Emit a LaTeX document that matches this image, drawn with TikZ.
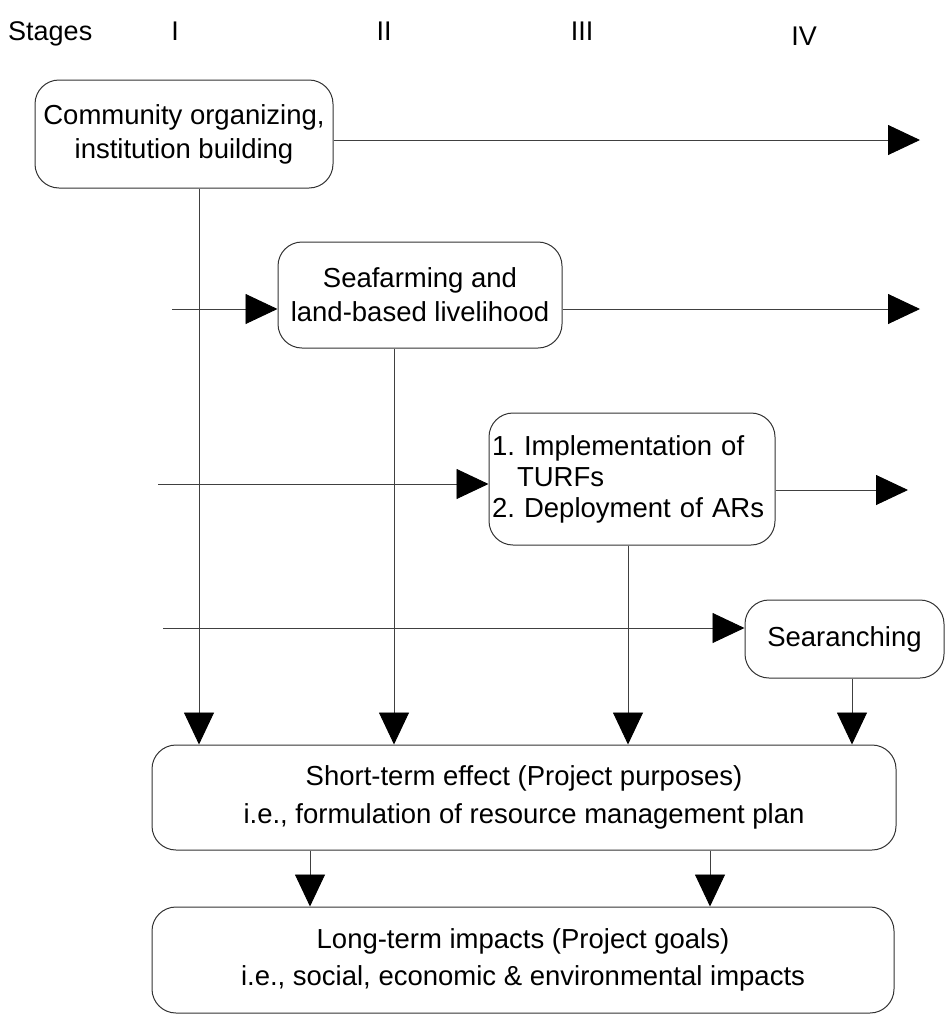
\documentclass[tikz,border=0pt]{standalone}
\usepackage{fontspec}
\setmainfont{Liberation Sans}
\usetikzlibrary{arrows.meta}
\frenchspacing
\begin{document}
\begin{tikzpicture}[x=1pt,y=-1pt,
  box/.style={draw=black!80, line width=1pt, rounded corners=24pt, inner sep=0pt,
    font=\fontsize{27.5}{34}\selectfont, align=center},
  arr/.style={draw=black!75, line width=0.9pt, -{Triangle[length=32pt,width=30pt,color=black]}},
  lbl/.style={font=\fontsize{27}{32}\selectfont, inner sep=0pt, anchor=base}]
\useasboundingbox (0,0) rectangle (946,1015);

% header
\node[lbl, anchor=base west] (h0) at (8,40) {Stages};
\node[lbl] (h1) at (175,40) {I};
\node[lbl] (h2) at (384,40) {II};
\node[lbl] (h3) at (582,40) {III};
\node[lbl] (h4) at (804,45) {IV};

% boxes
\node[box, minimum width=298pt, minimum height=108pt] (A) at (184,134)
  {Community organizing,\\institution building};
\node[box, minimum width=284pt, minimum height=106pt] (B) at (420,295)
  {Seafarming and\\land-based livelihood};
\node[box, minimum width=286pt, minimum height=132pt, text width=280pt, align=left,
  font=\fontsize{27.5}{31}\selectfont] (C) at (632,479)
  {1. Implementation of\\\hspace*{25pt}TURFs\\2. Deployment of ARs};
\node[box, minimum width=199pt, minimum height=78pt] (D) at (844.5,639) {Searanching};
\node[box, minimum width=744pt, minimum height=105pt, font=\fontsize{27.5}{38}\selectfont] (S) at (524,797.5)
  {Short-term effect (Project purposes)\\i.e., formulation of resource management plan};
\node[box, minimum width=742pt, minimum height=106pt, font=\fontsize{27.5}{37}\selectfont] (L) at (523,960)
  {Long-term impacts (Project goals)\\i.e., social, economic \& environmental impacts};

% horizontal connectors
\coordinate (r1) at (920,140);
\coordinate (l2) at (172,309);
\coordinate (r2) at (920,309);
\coordinate (l3) at (158,484);
\coordinate (r3) at (908,490);
\coordinate (l4) at (163,628);
\draw[arr] (A.east |- r1) -- (r1);
\draw[arr] (l2) -- (B.west |- l2);
\draw[arr] (B.east |- r2) -- (r2);
\draw[arr] (l3) -- (C.west |- l3);
\draw[arr] (C.east |- r3) -- (r3);
\draw[arr] (l4) -- (D.west |- l4);

% vertical connectors
\coordinate (v1) at (199,0);
\coordinate (v2) at (394,0);
\coordinate (v3) at (628,0);
\coordinate (v4) at (852,0);
\coordinate (v5) at (310,0);
\coordinate (v6) at (710,0);
\draw[arr] (A.south -| v1) -- (v1 |- S.north);
\draw[arr] (B.south -| v2) -- (v2 |- S.north);
\draw[arr] (C.south -| v3) -- (v3 |- S.north);
\draw[arr] (D.south -| v4) -- (v4 |- S.north);
\draw[arr] (S.south -| v5) -- (v5 |- L.north);
\draw[arr] (S.south -| v6) -- (v6 |- L.north);
\end{tikzpicture}
\end{document}
